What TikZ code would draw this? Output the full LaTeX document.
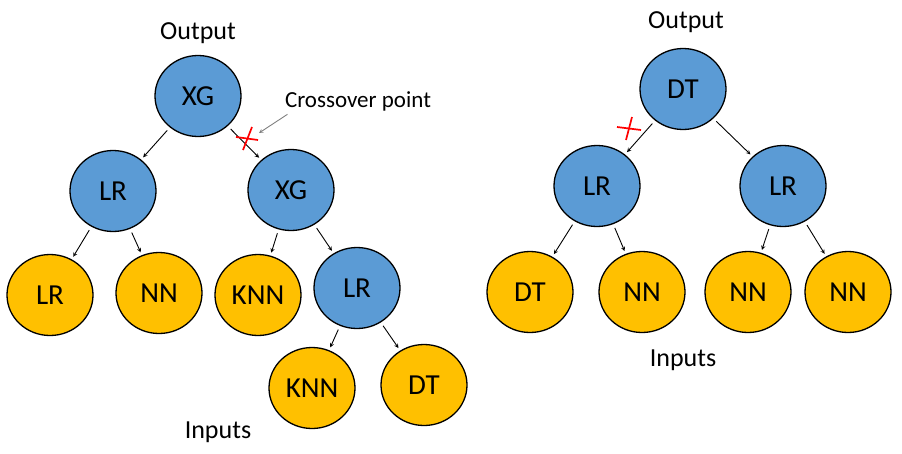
\documentclass[tikz,border=0pt]{standalone}
\usepackage{fontspec}
\setmainfont{Carlito}
\usetikzlibrary{shapes.geometric,arrows}

\begin{document}
\begin{tikzpicture}[x=1pt,y=-1pt, >=stealth,
    model/.style={ellipse, draw=black, line width=1.3pt, minimum width=86pt,
      minimum height=81pt, inner sep=0pt, font=\fontsize{29}{31}\selectfont},
    inner/.style={model, fill={rgb,255:red,91;green,155;blue,213}},
    leaf/.style={model, fill={rgb,255:red,255;green,192;blue,0}},
    link/.style={->, line width=0.9pt, shorten <=4pt, shorten >=3pt},
    cut/.style={red, line width=1.7pt},
    caption/.style={font=\fontsize{26}{28}\selectfont}]
    \useasboundingbox (0,0) rectangle (902,453);
    % left tree
    \node[caption] (outL) at (198,33) {Output};
    \node[inner] (A) at (198,96) {XG};
    \node[inner] (A1) at (113,191) {LR};
    \node[inner] (A2) at (291,190) {XG};
    \node[leaf] (A11) at (50,295) {LR};
    \node[leaf] (A12) at (159,293) {NN};
    \node[leaf] (A21) at (258,295) {KNN};
    \node[inner] (A22) at (357,288) {LR};
    \node[leaf] (A221) at (312,388) {KNN};
    \node[leaf] (A222) at (424,385) {DT};
    \node[caption] (inL) at (218,432) {Inputs};
    \draw[link] (A) -- (A1);
    \draw[link] (A) -- (A2);
    \draw[link] (A1) -- (A11);
    \draw[link] (A1) -- (A12);
    \draw[link] (A2) -- (A21);
    \draw[link] (A2) -- (A22);
    \draw[link] (A22) -- (A221);
    \draw[link] (A22) -- (A222);
    % crossover point
    \node[font=\fontsize{23}{25}\selectfont] (cross) at (358,101) {Crossover point};
    \coordinate (tip) at (259,133);
    \draw[->, gray, line width=0.9pt] ([xshift=6pt]cross.south west) -- (tip);
    \coordinate (cutL) at (247,138);
    \draw[cut] ([shift={(-11,-1)}]cutL) -- ([shift={(11,2)}]cutL);
    \draw[cut] ([shift={(5,-11)}]cutL) -- ([shift={(-4,12)}]cutL);
    % right tree
    \node[caption] (outR) at (686,22) {Output};
    \node[inner] (B) at (683,89) {DT};
    \node[inner] (B1) at (597,186) {LR};
    \node[inner] (B2) at (783,186) {LR};
    \node[leaf] (B11) at (530,292) {DT};
    \node[leaf] (B12) at (642,292) {NN};
    \node[leaf] (B21) at (748,292) {NN};
    \node[leaf] (B22) at (848,292) {NN};
    \node[caption] (inR) at (683,360) {Inputs};
    \draw[link] (B) -- (B1);
    \draw[link] (B) -- (B2);
    \draw[link] (B1) -- (B11);
    \draw[link] (B1) -- (B12);
    \draw[link] (B2) -- (B21);
    \draw[link] (B2) -- (B22);
    \coordinate (cutR) at (629,128);
    \draw[cut] ([shift={(-12,-1)}]cutR) -- ([shift={(12,2)}]cutR);
    \draw[cut] ([shift={(3,-11)}]cutR) -- ([shift={(-3,12)}]cutR);
\end{tikzpicture}
\end{document}
